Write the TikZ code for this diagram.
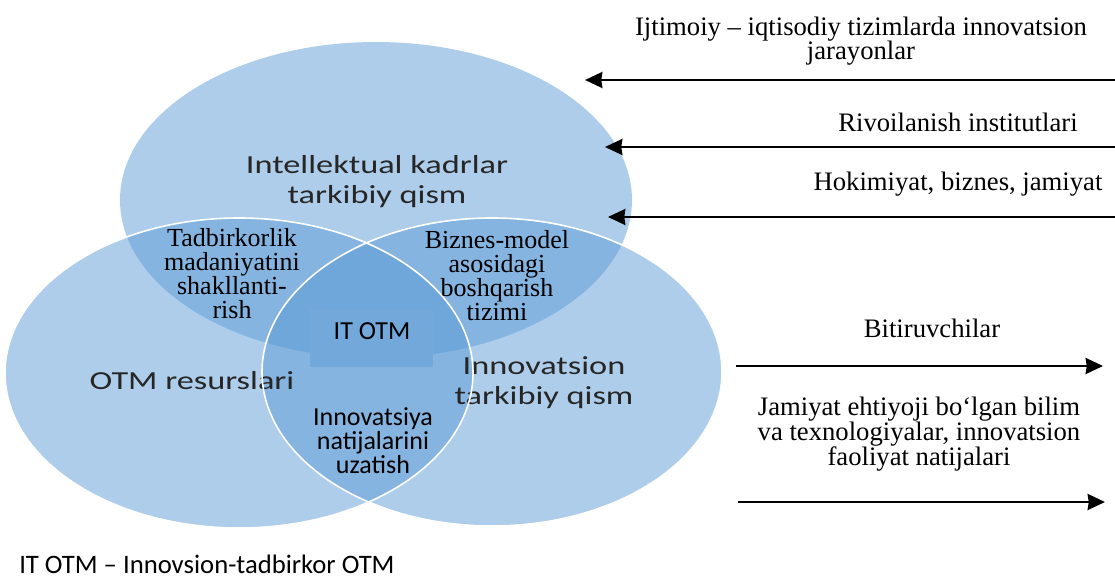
\documentclass[tikz,border=0pt]{standalone}
\usepackage{fontspec}
\setmainfont{Liberation Serif}
\setsansfont{Carlito}
\newfontfamily\widesans[FakeStretch=1.32]{Carlito}
\usetikzlibrary{
  shapes.geometric, % Shape "ellipse"
  arrows.meta,
  positioning,
}
\definecolor{vennblue}{HTML}{5B9BD5}
\definecolor{itblue}{HTML}{72A8DA}
\def\mytextsize{\fontsize{19.5}{18}\selectfont}
\def\mysanssize{\fontsize{19.5}{18}\selectfont}
\tikzset{
  semithick,
  >={Stealth[length=13pt,width=12pt,inset=0.8pt]},
  my venn/.style={
    ellipse,
    draw=none,
    fill=vennblue,
    fill opacity=0.5,
    inner sep=0mm
  },
  my venn edge/.style={
    draw=white,
    line width=1.2pt
  },
  my circle label/.style={
    font=\widesans\fontsize{19.5}{22.5}\selectfont,
    text=black!85,
    align=center,
    inner sep=0mm
  },
  my region label/.style={
    font=\mytextsize,
    align=center,
    inner sep=0mm
  },
  my sans label/.style={
    font=\sffamily\mysanssize,
    align=center,
    inner sep=0mm
  },
  my flow label/.style={
    font=\fontsize{20}{18.5}\selectfont,
    align=center,
    inner sep=0mm
  },
  my flow/.style={
    line width=1.8pt
  }
}

\begin{document}
\begin{tikzpicture}[x=0.75pt,y=-0.75pt]
\useasboundingbox (0,0) rectangle (1115,578);
% Venn circles
\node[my venn,minimum width=384pt,minimum height=237pt]   (kadr)   at (376,200) {};
\node[my venn,minimum width=351pt,minimum height=232.5pt] (resurs) at (239,373) {};
\node[my venn,minimum width=345pt,minimum height=231pt]   (innov)  at (492,372) {};
\node[my circle label] (kadrtxt)   at (377,182) {Intellektual kadrlar\\tarkibiy qism};
\node[my circle label] (resurstxt) at (192,381) {OTM resurslari};
\node[my circle label] (innovtxt)  at (544,383) {Innovatsion\\tarkibiy qism};
\draw[my venn edge] (resurs.center) ellipse [x radius=234,y radius=155];
\draw[my venn edge] (innov.center)  ellipse [x radius=230,y radius=154];
% Overlaps
\node[my region label] (madaniyat) at (232,274) {Tadbirkorlik\\madaniyatini\\shakllanti-\\rish};
\node[my region label] (biznes)    at (497,276) {Biznes-model\\asosidagi\\boshqarish\\tizimi};
\node[my sans label]   (uzatish)   at (373,441) {Innovatsiya\\natijalarini\\uzatish};
\node[fill=itblue,inner sep=0mm,minimum width=92pt,minimum height=43.5pt] (itbox) at (371.5,338) {};
\node[my sans label] (itotm) at (372,331) {IT OTM};
% Flows
\node[my flow label] (ijtimoiy) at (861,41)  {Ijtimoiy -- iqtisodiy tizimlarda innovatsion\\jarayonlar};
\node[my flow label] (rivoj)    at (958,122) {Rivoilanish institutlari};
\node[my flow label] (hokim)    at (958,184) {Hokimiyat, biznes, jamiyat};
\node[my flow label] (bitir)    at (932,328) {Bitiruvchilar};
\node[my flow label] (bilim)    at (919,434) {Jamiyat ehtiyoji bo‘lgan bilim\\va texnologiyalar, innovatsion\\faoliyat natijalari};
\coordinate (in1)  at (1115,80);  \coordinate (in1e) at (585,80);
\coordinate (in2)  at (1115,147); \coordinate (in2e) at (605,147);
\coordinate (in3)  at (1115,217); \coordinate (in3e) at (608,217);
\coordinate (out1) at (736,366);  \coordinate (out1e) at (1103,366);
\coordinate (out2) at (738,502);  \coordinate (out2e) at (1105,502);
\draw[my flow,->] (in1) -- (in1e);
\draw[my flow,->] (in2) -- (in2e);
\draw[my flow,->] (in3) -- (in3e);
\draw[my flow,->] (out1) -- (out1e);
\draw[my flow,->] (out2) -- (out2e);
\node[my sans label,anchor=west,font=\sffamily\fontsize{20}{20}\selectfont] (izoh) at (19,564) {IT OTM -- Innovsion-tadbirkor OTM};
\end{tikzpicture}
\end{document}
